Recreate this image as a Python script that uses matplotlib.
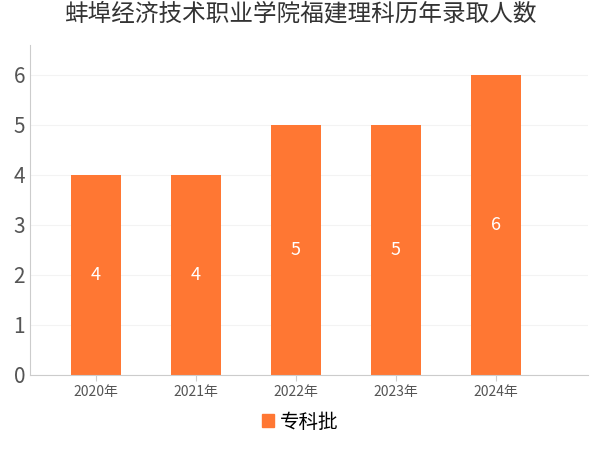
import matplotlib
matplotlib.use("Agg")
import matplotlib.pyplot as plt
from matplotlib.patches import Patch
from matplotlib import font_manager as fm

cands = []
for f in fm.findSystemFonts():
    if "CJK" in f or "cjk" in f.lower():
        try:
            fm.fontManager.addfont(f)
            cands.append(fm.FontProperties(fname=f).get_name())
        except Exception:
            pass
plt.rcParams["font.family"] = ["Noto Sans CJK SC", "Noto Sans CJK JP"] + cands + ["DejaVu Sans"]

years = ["2020年", "2021年", "2022年", "2023年", "2024年"]
values = [4, 4, 5, 5, 6]
series_name = "专科批"
title = "蚌埠经济技术职业学院福建理科历年录取人数"
color = "#FF7733"

fig = plt.figure(figsize=(6, 4.5), dpi=100)
ax = fig.add_axes([0.05, 0.167, 0.93, 0.733])
x = range(len(years))
ax.bar(x, values, width=0.5, color=color, zorder=2)
for xi, v in zip(x, values):
    ax.text(xi, v / 2, str(v), ha="center", va="center", color="white", fontsize=13)
ax.set_xticks(list(x))
ax.set_xticklabels(years, fontsize=10, color="#555555")
ax.set_yticks(range(0, 7))
ax.tick_params(axis="y", labelsize=15, colors="#555555", length=0)
ax.tick_params(axis="x", length=4, color="#cccccc")
ax.set_ylim(0, 6.6)
ax.set_xlim(-0.66, 4.92)
ax.grid(axis="y", color="#f3f3f3", zorder=0)
for s in ["top", "right"]:
    ax.spines[s].set_visible(False)
ax.spines["left"].set_color("#cccccc")
ax.spines["bottom"].set_color("#cccccc")
fig.suptitle(title, fontsize=17, y=0.995, color="#333333")
fig.legend(handles=[Patch(color=color, label=series_name)], loc="lower center",
           bbox_to_anchor=(0.5, 0.0), frameon=False, fontsize=14,
           handlelength=0.6, handleheight=0.6, handletextpad=0.3)
fig.savefig("out.png", dpi=100)
